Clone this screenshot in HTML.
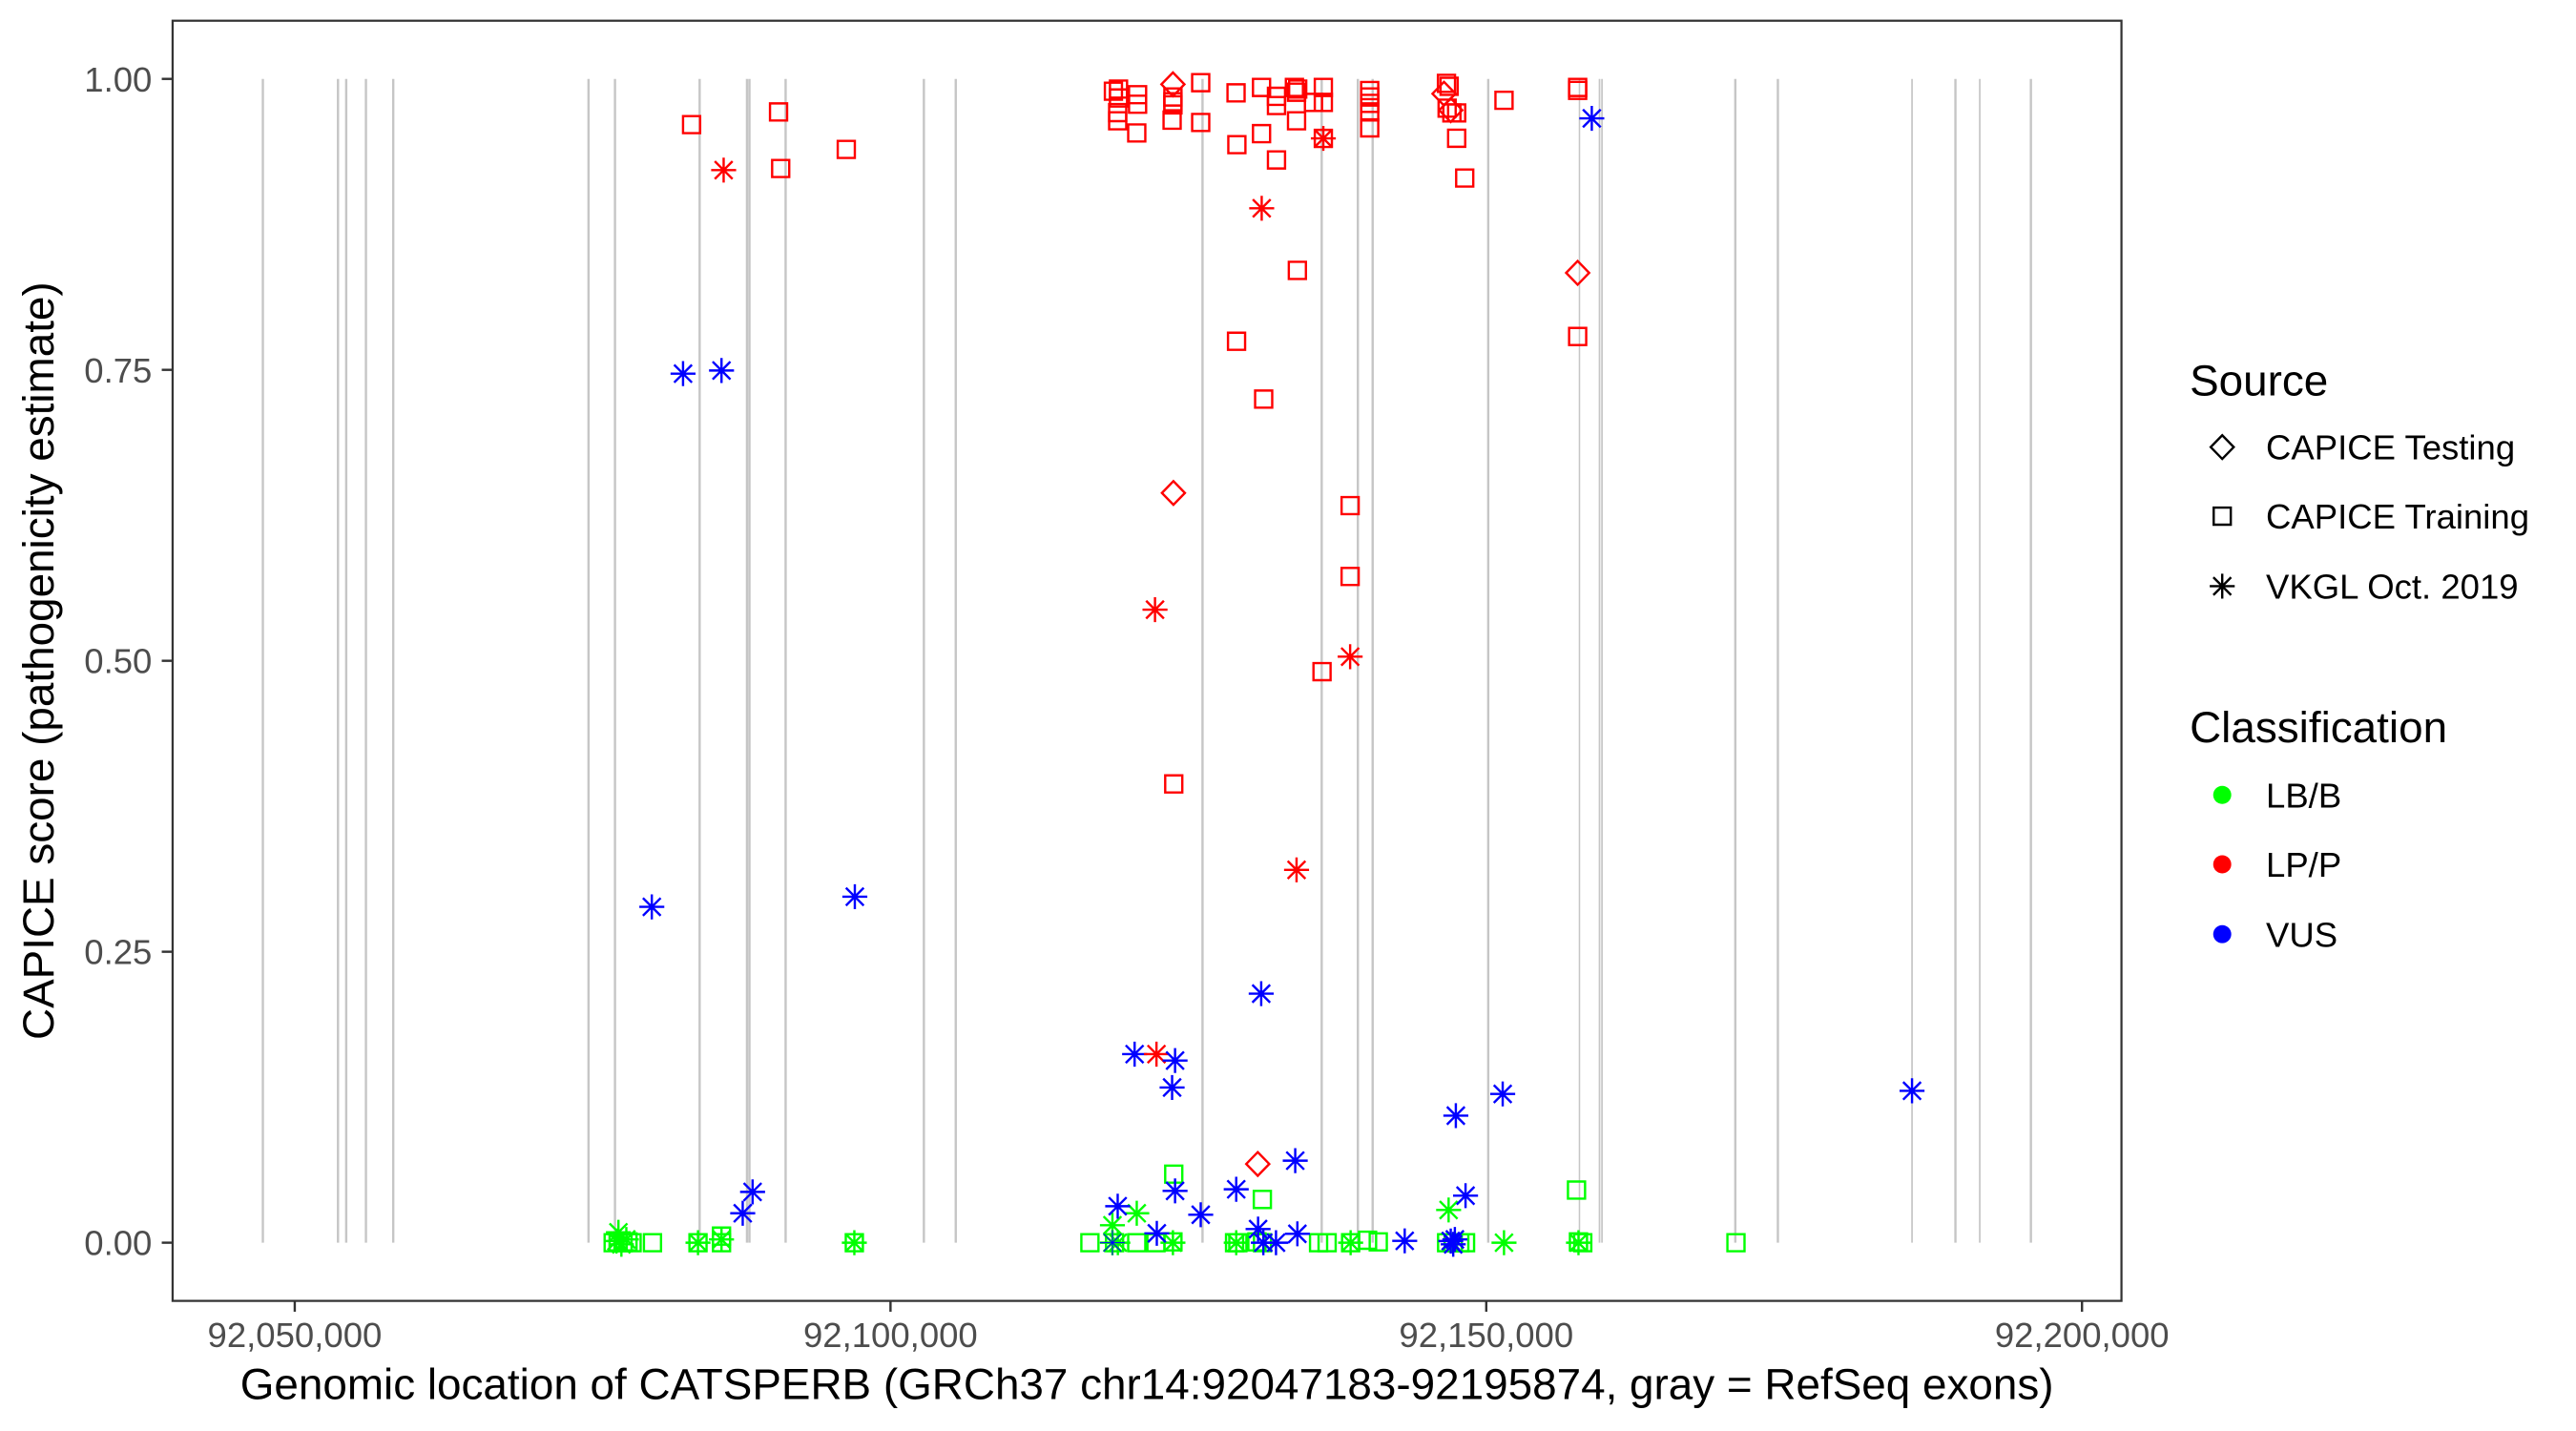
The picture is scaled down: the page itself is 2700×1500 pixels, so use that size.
<!DOCTYPE html>
<html>
<head>
<meta charset="utf-8">
<style>
html,body{margin:0;padding:0;background:#ffffff;width:2700px;height:1500px;overflow:hidden}
svg{display:block}
</style>
</head>
<body>
<svg xmlns="http://www.w3.org/2000/svg" width="2700" height="1500" viewBox="0 0 1567 870.56" preserveAspectRatio="none" font-family="'Liberation Sans', Arial, sans-serif">
<defs>
<path id="sq" d="M-5.2,-5.2h10.4v10.4h-10.4z" fill="none"/>
<path id="dm" d="M0,-7.2L7.0,0L0,7.2L-7.0,0z" fill="none"/>
<path id="st" d="M-5.4,-5.4L5.4,5.4M-5.4,5.4L5.4,-5.4M-7.6,0H7.6M0,-7.6V7.6" fill="none"/>
</defs>
<rect x="0" y="0" width="1567" height="870.56" fill="#ffffff"/>

<g stroke="#C6C6C6" stroke-width="1.4">
<line x1="159.9" y1="48" x2="159.9" y2="756"/>
<line x1="205.6" y1="48" x2="205.6" y2="756"/>
<line x1="210.6" y1="48" x2="210.6" y2="756"/>
<line x1="222.6" y1="48" x2="222.6" y2="756"/>
<line x1="239.2" y1="48" x2="239.2" y2="756"/>
<line x1="358.0" y1="48" x2="358.0" y2="756"/>
<line x1="374.1" y1="48" x2="374.1" y2="756"/>
<line x1="425.6" y1="48" x2="425.6" y2="756"/>
<line x1="454.4" y1="48" x2="454.4" y2="756"/>
<line x1="455.9" y1="48" x2="455.9" y2="756"/>
<line x1="477.9" y1="48" x2="477.9" y2="756"/>
<line x1="562.0" y1="48" x2="562.0" y2="756"/>
<line x1="581.4" y1="48" x2="581.4" y2="756"/>
<line x1="731.5" y1="48" x2="731.5" y2="756"/>
<line x1="804.0" y1="48" x2="804.0" y2="756"/>
<line x1="826.0" y1="48" x2="826.0" y2="756"/>
<line x1="835.0" y1="48" x2="835.0" y2="756"/>
<line x1="905.3" y1="48" x2="905.3" y2="756"/>
<line x1="960.8" y1="48" x2="960.8" y2="756" stroke-width="0.9"/>
<line x1="973.0" y1="48" x2="973.0" y2="756" stroke-width="1.0"/>
<line x1="974.5" y1="48" x2="974.5" y2="756" stroke-width="1.0"/>
<line x1="1055.6" y1="48" x2="1055.6" y2="756"/>
<line x1="1081.5" y1="48" x2="1081.5" y2="756"/>
<line x1="1163.1" y1="48" x2="1163.1" y2="756" stroke-width="1.0"/>
<line x1="1189.5" y1="48" x2="1189.5" y2="756"/>
<line x1="1204.3" y1="48" x2="1204.3" y2="756" stroke-width="1.0"/>
<line x1="1235.4" y1="48" x2="1235.4" y2="756"/>
</g>

<g stroke="#00FF00" stroke-width="1.4">
<use href="#sq" x="373" y="756"/>
<use href="#sq" x="376" y="755.5"/>
<use href="#sq" x="379" y="756"/>
<use href="#sq" x="382" y="755.5"/>
<use href="#sq" x="384.5" y="756"/>
<use href="#sq" x="396.9" y="756"/>
<use href="#sq" x="424.6" y="756"/>
<use href="#sq" x="438.9" y="756"/>
<use href="#sq" x="438.9" y="752"/>
<use href="#sq" x="519.7" y="756"/>
<use href="#sq" x="663" y="756"/>
<use href="#sq" x="678" y="756"/>
<use href="#sq" x="691.5" y="756"/>
<use href="#sq" x="703.2" y="756"/>
<use href="#sq" x="713.5" y="755.5"/>
<use href="#sq" x="751" y="756"/>
<use href="#sq" x="753" y="756"/>
<use href="#sq" x="764.6" y="755.5"/>
<use href="#sq" x="768" y="756"/>
<use href="#sq" x="802.1" y="756"/>
<use href="#sq" x="807.3" y="756"/>
<use href="#sq" x="821.6" y="756"/>
<use href="#sq" x="831.9" y="754.5"/>
<use href="#sq" x="838.4" y="755.5"/>
<use href="#sq" x="880" y="756"/>
<use href="#sq" x="884" y="756"/>
<use href="#sq" x="888" y="756"/>
<use href="#sq" x="891.5" y="756"/>
<use href="#sq" x="960.2" y="755.5"/>
<use href="#sq" x="962.8" y="756"/>
<use href="#sq" x="1056" y="756"/>
<use href="#sq" x="714" y="714.3"/>
<use href="#sq" x="767.9" y="729.7"/>
<use href="#sq" x="959" y="724"/>
<use href="#st" x="376.2" y="749.7"/>
<use href="#st" x="375" y="755"/>
<use href="#st" x="381" y="754"/>
<use href="#st" x="378" y="757"/>
<use href="#st" x="424.6" y="756"/>
<use href="#st" x="438.9" y="754"/>
<use href="#st" x="519.7" y="756"/>
<use href="#st" x="676.7" y="745.4"/>
<use href="#st" x="676.7" y="756"/>
<use href="#st" x="680" y="756"/>
<use href="#st" x="691.5" y="738.1"/>
<use href="#st" x="713.5" y="756"/>
<use href="#st" x="752" y="756"/>
<use href="#st" x="821.6" y="756"/>
<use href="#st" x="881.2" y="736.1"/>
<use href="#st" x="914.9" y="756"/>
<use href="#st" x="960.2" y="756"/>
</g>

<g stroke="#0000FF" stroke-width="1.4">
<use href="#st" x="676.7" y="756" stroke-width="0.6"/>
<use href="#st" x="968.3" y="72"/>
<use href="#st" x="415.5" y="227.3"/>
<use href="#st" x="438.9" y="225.4"/>
<use href="#st" x="396.5" y="551.7"/>
<use href="#st" x="520" y="545.5"/>
<use href="#st" x="767.2" y="604.5"/>
<use href="#st" x="690.2" y="641.3"/>
<use href="#st" x="713" y="661.6"/>
<use href="#st" x="885.6" y="678.7"/>
<use href="#st" x="914.1" y="665.5"/>
<use href="#st" x="1163.1" y="663.6"/>
<use href="#st" x="457.8" y="725.1"/>
<use href="#st" x="451.8" y="738.1"/>
<use href="#st" x="714.8" y="724.5"/>
<use href="#st" x="679.9" y="733.8"/>
<use href="#st" x="703.7" y="750.3"/>
<use href="#st" x="730.4" y="739"/>
<use href="#st" x="752" y="723.5"/>
<use href="#st" x="787.9" y="706.1"/>
<use href="#st" x="765.3" y="747.7"/>
<use href="#st" x="789.2" y="750.6"/>
<use href="#st" x="768.5" y="756"/>
<use href="#st" x="776.2" y="756"/>
<use href="#st" x="854.5" y="754.9"/>
<use href="#st" x="882.5" y="755"/>
<use href="#st" x="884" y="757"/>
<use href="#st" x="885" y="754"/>
<use href="#st" x="891.5" y="727.4"/>
</g>

<g stroke="#FF0000" stroke-width="1.4">
<use href="#sq" x="677.3" y="55.5"/>
<use href="#sq" x="680.4" y="54.2"/>
<use href="#sq" x="680.4" y="59.6"/>
<use href="#sq" x="692" y="57.6"/>
<use href="#sq" x="692" y="63.4"/>
<use href="#sq" x="679.9" y="68.5"/>
<use href="#sq" x="679.9" y="73.5"/>
<use href="#sq" x="691.5" y="80.9"/>
<use href="#sq" x="713.5" y="59"/>
<use href="#sq" x="713.5" y="61.9"/>
<use href="#sq" x="713.5" y="63.8"/>
<use href="#sq" x="713" y="73.1"/>
<use href="#sq" x="730.4" y="50.3"/>
<use href="#sq" x="730.4" y="74.5"/>
<use href="#sq" x="751.9" y="56.5"/>
<use href="#sq" x="752.4" y="88"/>
<use href="#sq" x="767.4" y="53.2"/>
<use href="#sq" x="767.4" y="81.3"/>
<use href="#sq" x="776.5" y="58.6"/>
<use href="#sq" x="776.5" y="64.2"/>
<use href="#sq" x="776.5" y="97.3"/>
<use href="#sq" x="787.4" y="53.2"/>
<use href="#sq" x="789.4" y="54.2"/>
<use href="#sq" x="788.7" y="56.1"/>
<use href="#sq" x="788.7" y="73.5"/>
<use href="#sq" x="799" y="62.3"/>
<use href="#sq" x="805" y="53.2"/>
<use href="#sq" x="805" y="62.3"/>
<use href="#sq" x="805" y="84.2"/>
<use href="#sq" x="833.2" y="55.1"/>
<use href="#sq" x="833.2" y="59"/>
<use href="#sq" x="833.2" y="62.9"/>
<use href="#sq" x="833.2" y="68.1"/>
<use href="#sq" x="833.2" y="77.8"/>
<use href="#sq" x="879.9" y="50.7"/>
<use href="#sq" x="881.5" y="52.5"/>
<use href="#sq" x="880.3" y="65.8"/>
<use href="#sq" x="883.2" y="68.7"/>
<use href="#sq" x="886.1" y="68.7"/>
<use href="#sq" x="886.1" y="84.1"/>
<use href="#sq" x="891" y="108.3"/>
<use href="#sq" x="914.9" y="61"/>
<use href="#sq" x="959.7" y="53.2"/>
<use href="#sq" x="959.7" y="55"/>
<use href="#sq" x="420.7" y="75.8"/>
<use href="#sq" x="473.6" y="68.1"/>
<use href="#sq" x="474.9" y="102.5"/>
<use href="#sq" x="514.8" y="90.9"/>
<use href="#sq" x="752.2" y="207.6"/>
<use href="#sq" x="768.7" y="242.8"/>
<use href="#sq" x="789.2" y="164.5"/>
<use href="#sq" x="821.3" y="307.6"/>
<use href="#sq" x="959.7" y="204.7"/>
<use href="#sq" x="821.3" y="350.7"/>
<use href="#sq" x="804.2" y="408.6"/>
<use href="#sq" x="714" y="476.9"/>
<use href="#st" x="440.2" y="103.5"/>
<use href="#st" x="767.5" y="126.7"/>
<use href="#st" x="805" y="84.2"/>
<use href="#st" x="702.6" y="370.9"/>
<use href="#st" x="821.3" y="399.5"/>
<use href="#st" x="788.7" y="529.2"/>
<use href="#st" x="703.5" y="641.3"/>
<use href="#dm" x="713.5" y="51.3"/>
<use href="#dm" x="878.4" y="57"/>
<use href="#dm" x="882.5" y="67"/>
<use href="#dm" x="713.8" y="299.9"/>
<use href="#dm" x="959.7" y="166"/>
<use href="#dm" x="765.1" y="708.1"/>
</g>
<g stroke="#0000FF" stroke-width="1.4">
<use href="#st" x="714.8" y="645.2"/>
</g>

<rect x="105" y="12.6" width="1185.5" height="778.8" fill="none" stroke="#333333" stroke-width="1.3"/>

<g stroke="#333333" stroke-width="1.4">
<line x1="98.4" y1="48" x2="105" y2="48"/>
<line x1="98.4" y1="225" x2="105" y2="225"/>
<line x1="98.4" y1="402" x2="105" y2="402"/>
<line x1="98.4" y1="579" x2="105" y2="579"/>
<line x1="98.4" y1="756" x2="105" y2="756"/>
<line x1="179.3" y1="791.4" x2="179.3" y2="798"/>
<line x1="541.7" y1="791.4" x2="541.7" y2="798"/>
<line x1="904.1" y1="791.4" x2="904.1" y2="798"/>
<line x1="1266.5" y1="791.4" x2="1266.5" y2="798"/>
</g>
<g fill="#4D4D4D" font-size="21.2" text-anchor="end">
<text x="92.5" y="55.6">1.00</text>
<text x="92.5" y="232.6">0.75</text>
<text x="92.5" y="409.6">0.50</text>
<text x="92.5" y="586.6">0.25</text>
<text x="92.5" y="763.6">0.00</text>
</g>
<g fill="#4D4D4D" font-size="21.2" text-anchor="middle">
<text x="179.3" y="819.5">92,050,000</text>
<text x="541.7" y="819.5">92,100,000</text>
<text x="904.1" y="819.5">92,150,000</text>
<text x="1266.5" y="819.5">92,200,000</text>
</g>

<text x="697.7" y="851" font-size="26.6" text-anchor="middle" fill="#000000">Genomic location of CATSPERB (GRCh37 chr14:92047183-92195874, gray = RefSeq exons)</text>
<text transform="translate(32.5,402) rotate(-90)" font-size="26.6" text-anchor="middle" fill="#000000">CAPICE score (pathogenicity estimate)</text>

<text x="1332" y="240.6" font-size="26.6" fill="#000000">Source</text>
<g stroke="#000000" stroke-width="1.4">
<use href="#dm" x="1351.8" y="272"/>
<use href="#sq" x="1351.8" y="314"/>
<use href="#st" x="1351.8" y="356.6"/>
</g>
<g font-size="21.2" fill="#000000">
<text x="1378.4" y="279.6">CAPICE Testing</text>
<text x="1378.4" y="321.6">CAPICE Training</text>
<text x="1378.4" y="364.2">VKGL Oct. 2019</text>
</g>
<text x="1332" y="451.6" font-size="26.6" fill="#000000">Classification</text>
<circle cx="1351.8" cy="483.6" r="5.5" fill="#00FF00"/>
<circle cx="1351.8" cy="525.8" r="5.5" fill="#FF0000"/>
<circle cx="1351.8" cy="568.3" r="5.5" fill="#0000FF"/>
<g font-size="21.2" fill="#000000">
<text x="1378.4" y="491.2">LB/B</text>
<text x="1378.4" y="533.4">LP/P</text>
<text x="1378.4" y="575.9">VUS</text>
</g>
</svg>
</body>
</html>
